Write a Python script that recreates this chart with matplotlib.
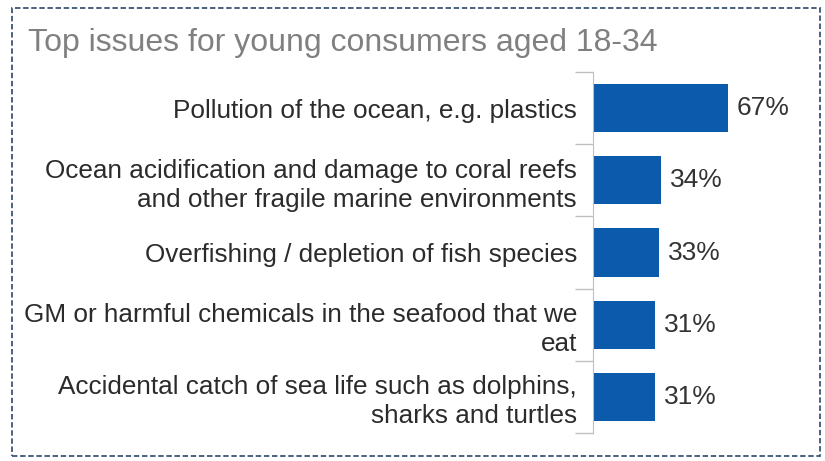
import numpy as np
import matplotlib.pyplot as plt
from matplotlib.patches import Rectangle

plt.rcParams['font.family'] = ['Liberation Sans', 'DejaVu Sans']

issues = [
    'Pollution of the ocean, e.g. plastics',
    'Ocean acidification and damage to coral reefs\nand other fragile marine environments',
    'Overfishing / depletion of fish species',
    'GM or harmful chemicals in the seafood that we\neat',
    'Accidental catch of sea life such as dolphins,\nsharks and turtles',
]
shares = [67, 34, 33, 31, 31]

W, H = 825, 461
fig = plt.figure(figsize=(W / 100, H / 100), dpi=100)

# dashed frame around the whole panel
fig.patches.append(Rectangle((12 / W, 1 - 456 / H), 808 / W, 448 / H,
                             transform=fig.transFigure, fill=False,
                             edgecolor='#3d5575', linestyle=(0, (3, 1.5)),
                             linewidth=1.3))

fig.text(28 / W, 1 - 43 / H, 'Top issues for young consumers aged 18-34',
         fontsize=23, color='#808080', va='center', ha='left')

ax = fig.add_axes([593 / W, 1 - 433 / H, 201 / W, 361 / H])
y = np.arange(len(issues))
ax.barh(y, shares, height=0.67, color='#0b5aab')
ax.set_ylim(len(issues) - 0.5, -0.5)
ax.set_xlim(0, 100)

for yi, v in zip(y, shares):
    ax.text(v + 4.5, yi, f'{v}%', va='center', ha='left',
            fontsize=19, color='#333333')

ax.set_yticks(np.arange(-0.5, len(issues)))
ax.set_yticklabels([])
ax.set_yticks(y, minor=True)
ax.set_yticklabels(issues, minor=True, fontsize=18.8, color='#2b2b2b',
                   ha='right', linespacing=1.25)
ax.tick_params(axis='y', which='major', length=13, width=1, color='#bfbfbf')
ax.tick_params(axis='y', which='minor', length=0, pad=11.5)
ax.set_xticks([])
for s in ['top', 'right', 'bottom']:
    ax.spines[s].set_visible(False)
ax.spines['left'].set_color('#bfbfbf')

fig.savefig('out.png', dpi=100)
